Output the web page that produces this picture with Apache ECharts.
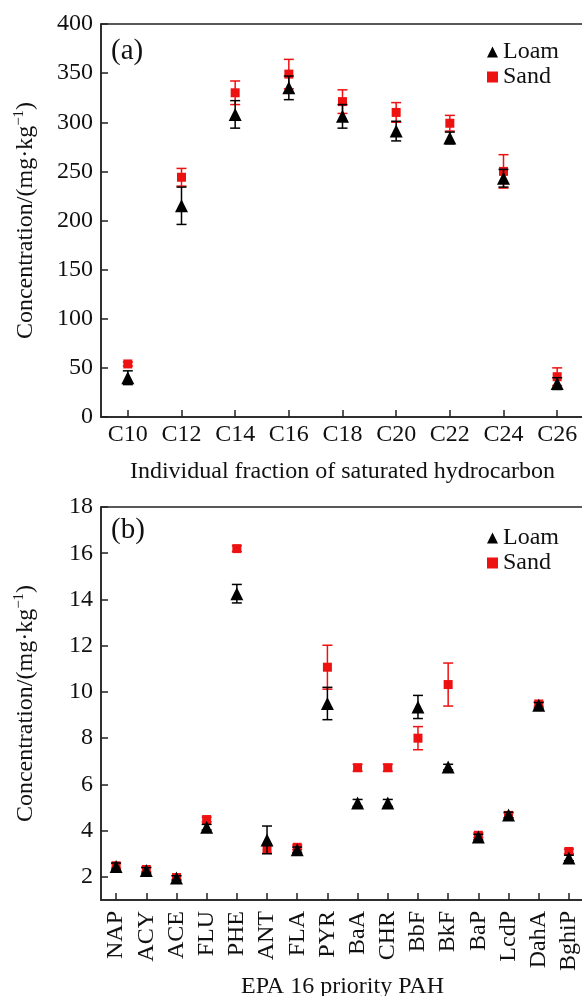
<!DOCTYPE html>
<html>
<head>
<meta charset="utf-8">
<script src="https://cdn.jsdelivr.net/npm/echarts@6/dist/echarts.min.js"></script>
<style>
html,body{margin:0;padding:0;background:#fff;}
#chart{width:582px;height:996px;}
</style>
</head>
<body>
<div id="chart"></div>
<script>
// Panel (a): saturated hydrocarbon fractions
var categoriesA = ['C10','C12','C14','C16','C18','C20','C22','C24','C26'];
var loamA    = [40, 215, 308, 335, 306, 291, 284, 243, 34];
var loamAErr = [7, 19, 14, 12, 12, 10, 6, 9, 6];
var sandA    = [54, 244, 330, 349, 321, 310, 299, 250, 41];
var sandAErr = [2, 9, 12, 15, 12, 10, 8, 17, 9];

// Panel (b): EPA 16 priority PAH
var categoriesB = ['NAP','ACY','ACE','FLU','PHE','ANT','FLA','PYR','BaA','CHR','BbF','BkF','BaP','LcdP','DahA','BghiP'];
var loamB    = [2.45, 2.28, 1.95, 4.15, 14.25, 3.6, 3.17, 9.5, 5.2, 5.2, 9.35, 6.75, 3.72, 4.68, 9.42, 2.82];
var loamBErr = [0.15, 0.12, 0.1, 0.12, 0.4, 0.6, 0.12, 0.7, 0.15, 0.15, 0.5, 0.12, 0.12, 0.12, 0.12, 0.12];
var sandB    = [2.48, 2.32, 1.97, 4.48, 16.2, 3.22, 3.28, 11.07, 6.72, 6.72, 8.0, 10.32, 3.8, 4.66, 9.48, 3.1];
var sandBErr = [0.1, 0.1, 0.08, 0.1, 0.12, 0.2, 0.1, 0.95, 0.15, 0.15, 0.5, 0.93, 0.1, 0.1, 0.1, 0.1];

var yTicksA = [0, 400, 50];           // min, max, interval
var yTicksB = [2, 4, 6, 8, 10, 12, 14, 16, 18];

var FONT = "'Liberation Serif','Times New Roman',serif";
var AXC = '#222';

function errData(vals, errs) {
  return vals.map(function (v, i) { return [i, v - errs[i], v + errs[i]]; });
}
function errRender(color) {
  return function (params, api) {
    var x = api.value(0);
    var lo = api.coord([x, api.value(1)]);
    var hi = api.coord([x, api.value(2)]);
    var w = 5;
    var st = { stroke: color, lineWidth: 1.5 };
    return {
      type: 'group',
      children: [
        { type: 'line', shape: { x1: lo[0], y1: lo[1], x2: hi[0], y2: hi[1] }, style: st },
        { type: 'line', shape: { x1: lo[0] - w, y1: lo[1], x2: lo[0] + w, y2: lo[1] }, style: st },
        { type: 'line', shape: { x1: hi[0] - w, y1: hi[1], x2: hi[0] + w, y2: hi[1] }, style: st }
      ]
    };
  };
}

var yName = 'Concentration/(mg·kg{sup|−1})';
var nameStyle = {
  fontFamily: FONT, fontSize: 24, color: '#111',
  rich: { sup: { fontFamily: FONT, fontSize: 15, verticalAlign: 'top', color: '#111', padding: [0, 0, 12, 0] } }
};
var axisLineCfg = { show: true, lineStyle: { color: AXC, width: 1.5 } };
var tickCfg = { show: true, inside: true, length: 7, lineStyle: { color: AXC, width: 1.5 } };
var labelFont = { fontFamily: FONT, fontSize: 24, color: '#111' };

var chart = echarts.init(document.getElementById('chart'), null, { renderer: 'canvas' });
chart.setOption({
  animation: false,
  backgroundColor: '#fff',
  title: [
    { text: '(a)', left: 111, top: 37, padding: 0, textStyle: { fontFamily: FONT, fontSize: 29, fontWeight: 'normal', color: '#111' } },
    { text: '(b)', left: 111, top: 516, padding: 0, textStyle: { fontFamily: FONT, fontSize: 29, fontWeight: 'normal', color: '#111' } }
  ],
  legend: [
    { data: ['Loam', 'Sand'], orient: 'vertical', left: 487, top: 40, padding: 0, itemGap: 1, itemWidth: 11, itemHeight: 11, itemTextGap: 8,
      textStyle: { fontFamily: FONT, fontSize: 24, color: '#111', lineHeight: 24 }, selectedMode: false },
    { data: ['Loam', 'Sand'], orient: 'vertical', left: 487, top: 526, padding: 0, itemGap: 1, itemWidth: 11, itemHeight: 11, itemTextGap: 8,
      textStyle: { fontFamily: FONT, fontSize: 24, color: '#111', lineHeight: 24 }, selectedMode: false }
  ],
  grid: [
    { left: 101, top: 24, right: -2, height: 393, outerBoundsMode: 'none', containLabel: false, show: true, borderColor: AXC, borderWidth: 1.5, backgroundColor: 'transparent' },
    { left: 101, top: 507, right: -2, height: 393, outerBoundsMode: 'none', containLabel: false, show: true, borderColor: AXC, borderWidth: 1.5, backgroundColor: 'transparent' }
  ],
  xAxis: [
    { type: 'category', gridIndex: 0, data: categoriesA, boundaryGap: true,
      axisLine: axisLineCfg, axisTick: Object.assign({ alignWithLabel: true, interval: 0 }, tickCfg),
      axisLabel: Object.assign({ margin: 6, interval: 0 }, labelFont),
      name: 'Individual fraction of saturated hydrocarbon', nameLocation: 'middle', nameGap: 43,
      nameTextStyle: { fontFamily: FONT, fontSize: 24, color: '#111' },
      splitLine: { show: false } },
    { type: 'category', gridIndex: 1, data: categoriesB, boundaryGap: true,
      axisLine: axisLineCfg, axisTick: Object.assign({ alignWithLabel: true, interval: 0 }, tickCfg),
      axisLabel: Object.assign({ margin: 11, interval: 0, rotate: 90 }, labelFont),
      name: 'EPA 16 priority PAH', nameLocation: 'middle', nameGap: 74,
      nameTextStyle: { fontFamily: FONT, fontSize: 24, color: '#111' },
      splitLine: { show: false } }
  ],
  yAxis: [
    { type: 'value', gridIndex: 0, min: yTicksA[0], max: yTicksA[1], interval: yTicksA[2],
      axisLine: axisLineCfg, axisTick: tickCfg,
      axisLabel: Object.assign({ margin: 8 }, labelFont),
      splitLine: { show: false },
      name: yName, nameLocation: 'middle', nameGap: 62, nameTextStyle: nameStyle },
    { type: 'value', gridIndex: 1, min: 1, max: 18,
      axisLine: axisLineCfg, axisTick: Object.assign({ customValues: yTicksB }, tickCfg),
      axisLabel: Object.assign({ margin: 8, customValues: yTicksB }, labelFont),
      splitLine: { show: false },
      name: yName, nameLocation: 'middle', nameGap: 62, nameTextStyle: nameStyle }
  ],
  series: [
    { type: 'custom', name: 'SandErrA', xAxisIndex: 0, yAxisIndex: 0, data: errData(sandA, sandAErr), renderItem: errRender('#ee1111'), encode: { x: 0, y: [1, 2] }, z: 2 },
    { type: 'scatter', name: 'Sand', xAxisIndex: 0, yAxisIndex: 0, data: sandA, symbol: 'rect', symbolSize: 9, itemStyle: { color: '#ee1111', opacity: 1 }, z: 3 },
    { type: 'custom', name: 'LoamErrA', xAxisIndex: 0, yAxisIndex: 0, data: errData(loamA, loamAErr), renderItem: errRender('#000'), encode: { x: 0, y: [1, 2] }, z: 4 },
    { type: 'scatter', name: 'Loam', xAxisIndex: 0, yAxisIndex: 0, data: loamA, symbol: 'triangle', symbolSize: 13, itemStyle: { color: '#000', opacity: 1 }, z: 5 },

    { type: 'custom', name: 'SandErrB', xAxisIndex: 1, yAxisIndex: 1, data: errData(sandB, sandBErr), renderItem: errRender('#ee1111'), encode: { x: 0, y: [1, 2] }, z: 2 },
    { type: 'scatter', name: 'Sand', xAxisIndex: 1, yAxisIndex: 1, data: sandB, symbol: 'rect', symbolSize: 9, itemStyle: { color: '#ee1111', opacity: 1 }, z: 3 },
    { type: 'custom', name: 'LoamErrB', xAxisIndex: 1, yAxisIndex: 1, data: errData(loamB, loamBErr), renderItem: errRender('#000'), encode: { x: 0, y: [1, 2] }, z: 4 },
    { type: 'scatter', name: 'Loam', xAxisIndex: 1, yAxisIndex: 1, data: loamB, symbol: 'triangle', symbolSize: 13, itemStyle: { color: '#000', opacity: 1 }, z: 5 }
  ]
});
</script>
</body>
</html>
